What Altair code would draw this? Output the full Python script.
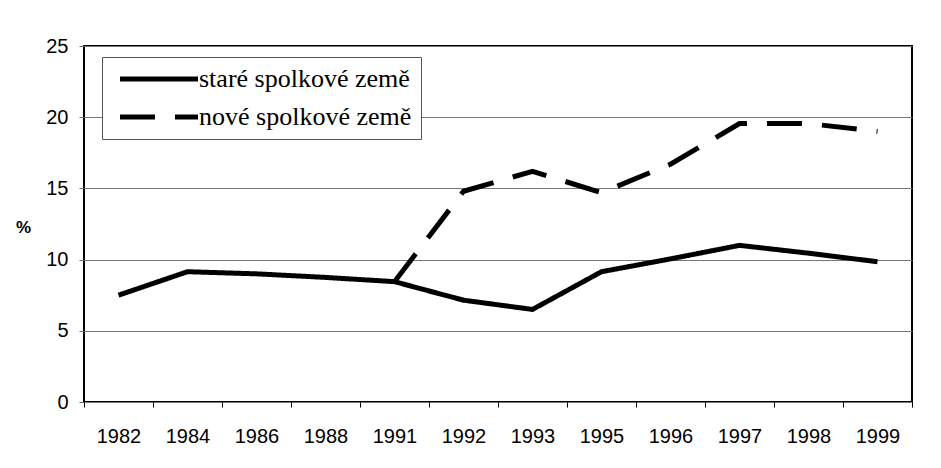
import altair as alt
import pandas as pd

years = ["1982", "1984", "1986", "1988", "1991", "1992", "1993", "1995", "1996", "1997", "1998", "1999"]
stare = [7.5, 9.15, 9.0, 8.75, 8.45, 7.15, 6.5, 9.15, 10.05, 11.0, 10.45, 9.85]
nove_years = ["1991", "1992", "1993", "1995", "1996", "1997", "1998", "1999"]
nove = [8.45, 14.8, 16.2, 14.7, 16.7, 19.55, 19.55, 19.0]
series_names = ["staré spolkové země", "nové spolkové země"]

rows = [{"rok": y, "hodnota": v, "serie": series_names[0]} for y, v in zip(years, stare)]
rows += [{"rok": y, "hodnota": v, "serie": series_names[1]} for y, v in zip(nove_years, nove)]
df = pd.DataFrame(rows)

chart = alt.Chart(df).mark_line(color="black", strokeWidth=5).encode(
    x=alt.X("rok:N", sort=years,
            scale=alt.Scale(type="band", domain=years, paddingInner=0, paddingOuter=0),
            axis=alt.Axis(title=None, labelAngle=0, tickBand="extent", grid=False,
                          labelFont="Liberation Sans", labelFontSize=20, labelColor="black",
                          tickSize=5, tickColor="black", domain=False, labelPadding=19)),
    y=alt.Y("hodnota:Q", scale=alt.Scale(domain=[0, 25], nice=False),
            axis=alt.Axis(values=[0, 5, 10, 15, 20, 25], title="%", titleAngle=0,
                          titleFont="Liberation Sans", titleFontSize=17, titleFontWeight="bold",
                          titleX=-61, titleY=181, titleAlign="center", titleBaseline="middle",
                          labelFont="Liberation Sans", labelFontSize=20, labelColor="black",
                          labelPadding=11, tickSize=5, tickColor="#666", domain=False,
                          grid=True, gridColor="#777", gridWidth=1)),
    strokeDash=alt.StrokeDash("serie:N", sort=series_names,
                              scale=alt.Scale(domain=series_names, range=[[1, 0], [35, 20]]),
                              legend=alt.Legend(title=None, orient="none", legendX=18, legendY=11,
                                                symbolType="M-1,0H6.8", symbolSize=400,
                                                symbolStrokeWidth=5, symbolStrokeColor="black",
                                                symbolOffset=6,
                                                labelFont="Liberation Serif", labelFontSize=26,
                                                labelColor="black", labelOffset=56, labelLimit=0,
                                                rowPadding=12, padding=9,
                                                strokeColor="#555", fillColor="white")),
    order=alt.Order("rok:N"),
).properties(
    width=828, height=356,
    autosize=alt.AutoSizeParams(type="none"),
    padding={"left": 76, "top": 38, "right": 20, "bottom": 50},
).configure_view(stroke="black", strokeWidth=2)

chart.save("out.html", embed_options={"renderer": "svg", "actions": False})
